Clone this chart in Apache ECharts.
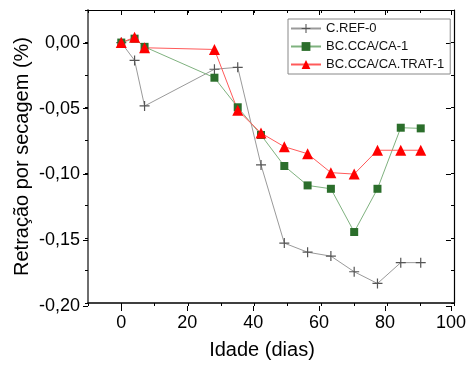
<!DOCTYPE html>
<html><head><meta charset="utf-8">
<script src="https://cdn.jsdelivr.net/npm/echarts@6/dist/echarts.min.js"></script>
<style>html,body{margin:0;padding:0;background:#fff}#c{width:469px;height:365px}</style>
</head><body><div id="c"></div>
<script>
const days = [0, 4, 7, 28, 35, 42, 49, 56, 63, 70, 77, 84, 90];
const cref0 = [0, -0.0137, -0.0487, -0.0205, -0.019, -0.094, -0.154, -0.161, -0.164, -0.176, -0.185, -0.169, -0.169];
const bcca1 = [0, 0.003, -0.0033, -0.027, -0.0497, -0.071, -0.0948, -0.1097, -0.1123, -0.1455, -0.1123, -0.0654, -0.0659];
const btrat1 = [0, 0.004, -0.004, -0.0053, -0.052, -0.0695, -0.080, -0.0854, -0.0999, -0.101, -0.0827, -0.0827, -0.0827];
const seriesNames = ['C.REF-0', 'BC.CCA/CA-1', 'BC.CCA/CA.TRAT-1'];
const xTitle = 'Idade (dias)';
const yTitle = 'Retração por secagem (%)';

const FONT = '"Liberation Sans", Arial, sans-serif';
const L = 88, R = 15, T = 10, B = 59;
const W = 469 - L - R, H = 365 - T - B;
const xMin = -10, xMax = 100, yMin = -0.2, yMax = 0.025;
const offX = (0 - xMin) * W / (xMax - xMin);
const offY = (yMax - 0) * H / (yMax - yMin);

const pairs = arr => arr.map((v, i) => [days[i], v]);
const plusPath = 'path://M4.4,0H5.6V4.4H10V5.6H5.6V10H4.4V5.6H0V4.4H4.4Z';
const noLine = {show: false, onZero: false};

const chart = echarts.init(document.getElementById('c'));
chart.setOption({
  animation: false,
  backgroundColor: '#fff',
  grid: [
    {left: L, right: R, top: T, bottom: B},
    {left: L + offX, right: R, top: T + offY, bottom: B}
  ],
  legend: {
    left: 288, top: 19, orient: 'vertical',
    itemWidth: 30, itemHeight: 11, itemGap: 5,
    padding: [3, 6, 3, 2],
    borderColor: '#888', borderWidth: 1,
    textStyle: {fontFamily: FONT, fontSize: 13, color: '#111'},
    data: seriesNames
  },
  xAxis: [
    {gridIndex: 0, type: 'value', min: xMin, max: xMax, interval: 10, position: 'bottom',
     axisLine: {show: true, onZero: false, lineStyle: {color: '#000', width: 1.5}},
     axisTick: {show: true, length: 3, lineStyle: {color: '#000'}},
     axisLabel: {show: false}, splitLine: {show: false},
     name: xTitle, nameLocation: 'middle', nameGap: 37,
     nameTextStyle: {fontFamily: FONT, fontSize: 20, color: '#000', padding: [0, 18, 0, 0]}},
    {gridIndex: 0, type: 'value', min: xMin, max: xMax, interval: 10, position: 'top',
     axisLine: {show: true, onZero: false, lineStyle: {color: '#000', width: 1.2}},
     axisTick: {show: true, inside: true, length: 3, lineStyle: {color: '#000'}},
     axisLabel: {show: false}, splitLine: {show: false}},
    {gridIndex: 1, type: 'value', min: 0, max: 100, interval: 20, position: 'bottom',
     axisLine: noLine,
     axisTick: {show: true, length: 5, lineStyle: {color: '#000'}},
     axisLabel: {show: true, fontFamily: FONT, fontSize: 18, color: '#000', margin: 8},
     splitLine: {show: false}},
    {gridIndex: 1, type: 'value', min: 0, max: 100, interval: 20, position: 'top', offset: offY,
     axisLine: noLine,
     axisTick: {show: true, inside: true, length: 5, lineStyle: {color: '#000'}},
     axisLabel: {show: false}, splitLine: {show: false}}
  ],
  yAxis: [
    {gridIndex: 0, type: 'value', min: yMin, max: yMax, interval: 0.025, position: 'left',
     axisLine: {show: true, onZero: false, lineStyle: {color: '#6e6e6e', width: 2}},
     axisTick: {show: true, length: 3, lineStyle: {color: '#000'}},
     axisLabel: {show: false}, splitLine: {show: false},
     name: yTitle, nameLocation: 'middle', nameGap: 56,
     nameTextStyle: {fontFamily: FONT, fontSize: 20, color: '#000'}},
    {gridIndex: 0, type: 'value', min: yMin, max: yMax, interval: 0.025, position: 'right',
     axisLine: {show: true, onZero: false, lineStyle: {color: '#000', width: 1.2}},
     axisTick: {show: true, inside: true, length: 3, lineStyle: {color: '#000'}},
     axisLabel: {show: false}, splitLine: {show: false}},
    {gridIndex: 1, type: 'value', min: yMin, max: 0, interval: 0.05, position: 'left', offset: offX,
     axisLine: noLine,
     axisTick: {show: true, length: 5, lineStyle: {color: '#000'}},
     axisLabel: {show: true, fontFamily: FONT, fontSize: 18, color: '#000', margin: 8,
       formatter: v => (Math.abs(v) < 1e-9 ? 0 : v).toFixed(2).replace('.', ',')},
     splitLine: {show: false}},
    {gridIndex: 1, type: 'value', min: yMin, max: 0, interval: 0.05, position: 'right',
     axisLine: noLine,
     axisTick: {show: true, inside: true, length: 5, lineStyle: {color: '#000'}},
     axisLabel: {show: false}, splitLine: {show: false}}
  ],
  series: [
    {name: seriesNames[0], type: 'line', xAxisIndex: 0, yAxisIndex: 0, data: pairs(cref0),
     symbol: plusPath, symbolSize: 10, showAllSymbol: true,
     lineStyle: {color: '#9a9a9a', width: 1}, itemStyle: {color: '#555'}},
    {name: seriesNames[1], type: 'line', xAxisIndex: 0, yAxisIndex: 0, data: pairs(bcca1),
     symbol: 'rect', symbolSize: 8, showAllSymbol: true,
     lineStyle: {color: '#7fb27f', width: 1}, itemStyle: {color: '#2b6e2b'}},
    {name: seriesNames[2], type: 'line', xAxisIndex: 0, yAxisIndex: 0, data: pairs(btrat1),
     symbol: 'triangle', symbolSize: 11, showAllSymbol: true,
     lineStyle: {color: '#ff5a5a', width: 1}, itemStyle: {color: '#ff0000'}}
  ]
});
</script></body></html>
